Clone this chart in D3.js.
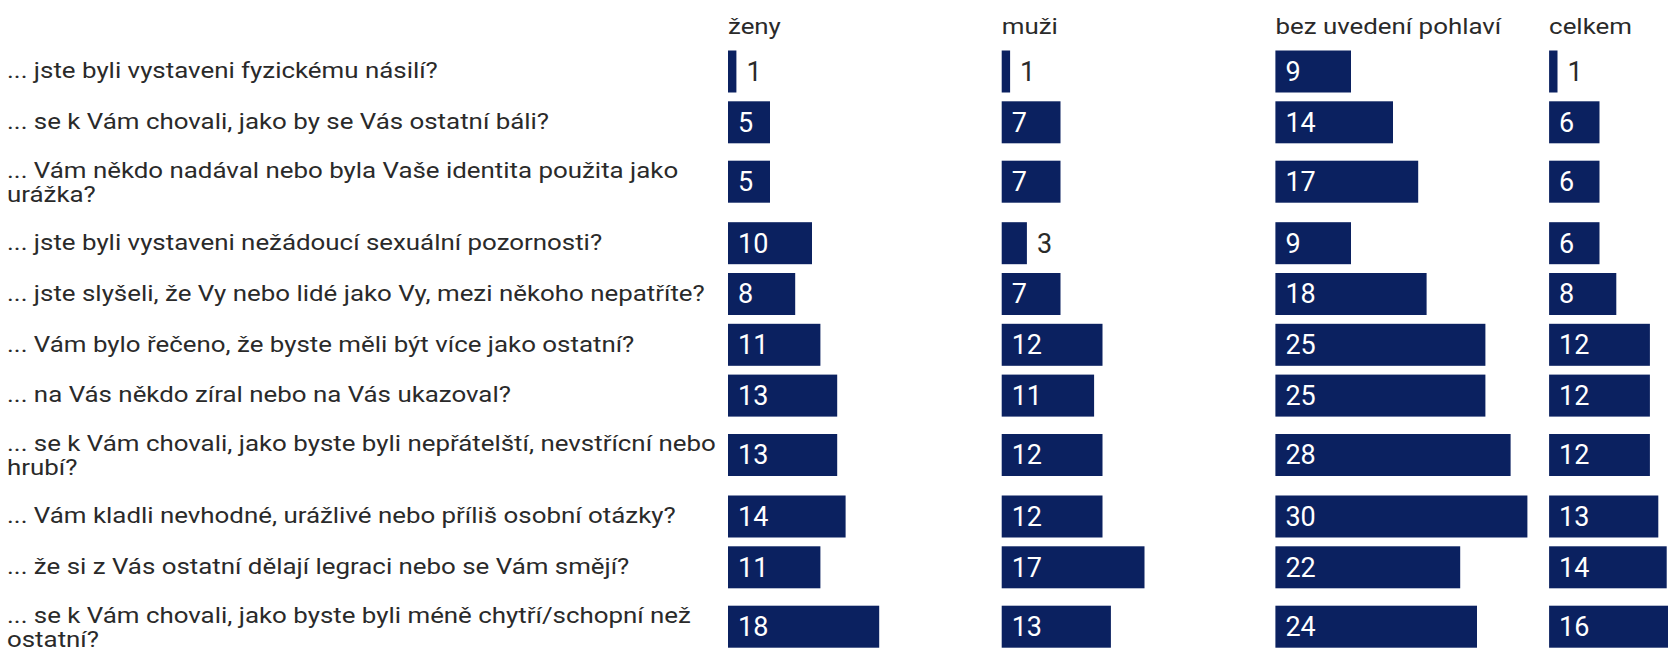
<!DOCTYPE html>
<html>
<head>
<meta charset="utf-8">
<script src="https://cdn.jsdelivr.net/npm/d3@7"></script>
<style>
  html, body { margin: 0; padding: 0; background: #fff; overflow: hidden; }
  svg { display: block; font-family: Roboto, "Noto Sans", sans-serif; }
</style>
</head>
<body>
<svg id="chart" width="1668" height="650"></svg>
<script>
const categories = [
  "... jste byli vystaveni fyzickému násilí?",
  "... se k Vám chovali, jako by se Vás ostatní báli?",
  "... Vám někdo nadával nebo byla Vaše identita použita jako urážka?",
  "... jste byli vystaveni nežádoucí sexuální pozornosti?",
  "... jste slyšeli, že Vy nebo lidé jako Vy, mezi někoho nepatříte?",
  "... Vám bylo řečeno, že byste měli být více jako ostatní?",
  "... na Vás někdo zíral nebo na Vás ukazoval?",
  "... se k Vám chovali, jako byste byli nepřátelští, nevstřícní nebo hrubí?",
  "... Vám kladli nevhodné, urážlivé nebo příliš osobní otázky?",
  "... že si z Vás ostatní dělají legraci nebo se Vám smějí?",
  "... se k Vám chovali, jako byste byli méně chytří/schopní než ostatní?"
];
const seriesNames = ["ženy", "muži", "bez uvedení pohlaví", "celkem"];
const zeny   = [1, 5, 5, 10, 8, 11, 13, 13, 14, 11, 18];
const muzi   = [1, 7, 7, 3, 7, 12, 11, 12, 12, 17, 13];
const bez    = [9, 14, 17, 9, 18, 25, 25, 28, 30, 22, 24];
const celkem = [1, 6, 6, 6, 8, 12, 12, 12, 13, 14, 16];
const seriesValues = [zeny, muzi, bez, celkem];
const xDomain = [0, 30];

// ---- layout / style ----
const fontSize = 22.5;
const stretch = 1.15;
const valueFont = 27;
const labelX = 7;
const wrapWidth = 716;
const lineH = 23.6;
const barH = 42;
const topY = 46.1;
const barColor = "#0b2160";
const textColor = "#2a2a2a";

const svg = d3.select("#chart");

const ctx = document.createElement("canvas").getContext("2d");
function measure(str, size) { ctx.font = `${size}px Roboto`; return ctx.measureText(str).width; }
function wrap(str) {
  const words = str.split(" ");
  const lines = [];
  let cur = "";
  words.forEach(w => {
    const t = cur ? cur + " " + w : w;
    if (measure(t, fontSize) * stretch > wrapWidth && cur) { lines.push(cur); cur = w; }
    else cur = t;
  });
  if (cur) lines.push(cur);
  return lines;
}

const rows = categories.map((c, i) => ({ label: c, lines: wrap(c), i }));
let y = topY;
rows.forEach(r => {
  const n = r.lines.length;
  r.h = 50.8 + (n - 1) * 19.3;
  r.center = y + 25.4 + (n - 1) * 8.6;
  r.textCenter = r.center + (n - 1) * 1.5;
  y += r.h;
});

const col = d3.scaleBand()
  .domain(seriesNames)
  .range([728, 728 + 3 * 273.7 + 252])
  .paddingInner(21.7 / 273.7)
  .paddingOuter(0);

const x = d3.scaleLinear().domain(xDomain).range([0, col.bandwidth()]);

// headers
svg.append("g").selectAll("text")
  .data(seriesNames)
  .join("text")
  .attr("transform", d => `translate(${col(d)},33.5) scale(${stretch},1)`)
  .attr("font-size", fontSize)
  .attr("fill", textColor)
  .text(d => d);

// category labels
svg.append("g").selectAll("text")
  .data(rows)
  .join("text")
  .attr("transform", r => `translate(${labelX},${r.textCenter}) scale(${stretch},1)`)
  .attr("font-size", fontSize)
  .attr("fill", textColor)
  .each(function (r) {
    const n = r.lines.length;
    d3.select(this).selectAll("tspan")
      .data(r.lines)
      .join("tspan")
      .attr("x", 0)
      .attr("y", (l, k) => (k - (n - 1) / 2) * lineH)
      .attr("dy", "0.3em")
      .text(l => l);
  });

// bars
seriesNames.forEach((name, s) => {
  const g = svg.append("g").attr("transform", `translate(${col(name)},0)`);
  const data = rows.map(r => ({ v: seriesValues[s][r.i], r }));
  g.selectAll("rect")
    .data(data)
    .join("rect")
    .attr("x", x(0))
    .attr("y", d => d.r.center - barH / 2)
    .attr("width", d => x(d.v) - x(0))
    .attr("height", barH)
    .attr("fill", barColor);
  g.selectAll("text")
    .data(data)
    .join("text")
    .attr("font-size", valueFont)
    .attr("y", d => d.r.center)
    .attr("dy", "0.35em")
    .each(function (d) {
      const tw = measure(String(d.v), valueFont);
      const bw = x(d.v) - x(0);
      const inside = bw >= tw + 20;
      d3.select(this)
        .attr("x", inside ? x(0) + 10 : bw + 10)
        .attr("fill", inside ? "#fff" : textColor);
    })
    .text(d => d.v);
});
</script>
</body>
</html>
